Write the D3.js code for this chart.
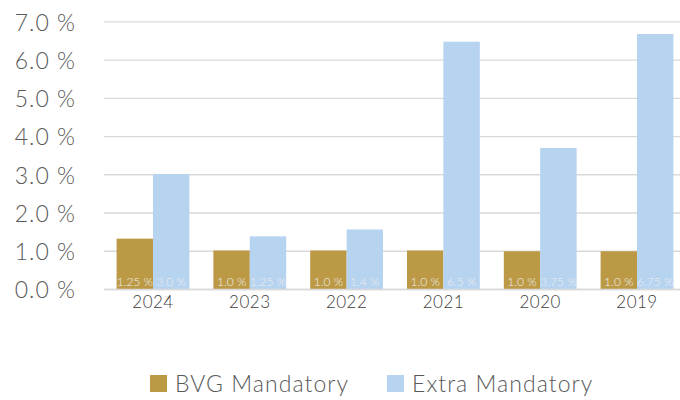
<!DOCTYPE html>
<html><head><meta charset="utf-8">
<script src="https://cdn.jsdelivr.net/npm/d3@7"></script>
<style>body{margin:0;background:#fff}svg{display:block}text{font-family:Lato,"Open Sans",sans-serif;font-weight:300}</style>
</head><body>
<svg id="c" width="680" height="400"></svg>
<script>
const years = ["2024","2023","2022","2021","2020","2019"];
const seriesNames = ["BVG Mandatory","Extra Mandatory"];
const bvgValues = [1.33, 1.02, 1.02, 1.02, 1.0, 1.0];
const extraValues = [3.02, 1.39, 1.57, 6.48, 3.7, 6.68];
const bvgLabels = ["1.25 %","1.0 %","1.0 %","1.0 %","1.0 %","1.0 %"];
const extraLabels = ["3.0 %","1.25 %","1.4 %","6.5 %","3.75 %","6.75 %"];
const yTicks = [0,1,2,3,4,5,6,7];
const colors = ["#BC9A45","#B6D3F0"];

const svg = d3.select("#c");
const x = d3.scaleBand().domain(years).range([104.6,685.4]).paddingInner(0).paddingOuter(0);
const y = d3.scaleLinear().domain([0,7]).range([289.5,21.8]);
const xs = d3.scaleBand().domain(seriesNames).range([12,x.bandwidth()-12]);

// gridlines
svg.append("g").selectAll("line").data(yTicks).join("line")
  .attr("x1",104).attr("x2",680)
  .attr("y1",d=>y(d)).attr("y2",d=>y(d))
  .attr("stroke","#d9d9d9").attr("stroke-width",1.3);

// y labels
const yAxis = d3.axisLeft(y).tickValues(yTicks).tickSize(0).tickPadding(0)
  .tickFormat(d=>d3.format(".1f")(d)+" %");
const gy = svg.append("g").attr("transform","translate(76,0)").call(yAxis);
gy.select(".domain").remove();
gy.selectAll("text").attr("fill","#595959").style("font-size","23px")
  .style("letter-spacing","1px").attr("dy","0.36em");

const data = years.map((yr,i)=>({yr, vals:[bvgValues[i],extraValues[i]], labs:[bvgLabels[i],extraLabels[i]]}));
const groups = svg.append("g").selectAll("g").data(data).join("g")
  .attr("transform",d=>`translate(${x(d.yr)},0)`);
groups.selectAll("rect").data(d=>d.vals.map((v,k)=>({v,k}))).join("rect")
  .attr("x",d=>xs(seriesNames[d.k])).attr("width",xs.bandwidth())
  .attr("y",d=>y(d.v)).attr("height",d=>y(0)-y(d.v))
  .attr("fill",d=>colors[d.k]);
groups.selectAll("text.lab").data(d=>d.labs.map((t,k)=>({t,k}))).join("text")
  .attr("class","lab")
  .attr("x",d=>xs(seriesNames[d.k])+xs.bandwidth()/2).attr("y",285.5)
  .attr("text-anchor","middle").attr("fill","#eeeeee").style("font-size","12px")
  .text(d=>d.t);

// baseline
svg.append("line").attr("x1",104).attr("x2",680).attr("y1",y(0)).attr("y2",y(0))
  .attr("stroke","#d9d9d9").attr("stroke-width",1.3);

// x axis labels
const xAxis = d3.axisBottom(x).tickSize(0).tickPadding(0);
const gx = svg.append("g").attr("transform","translate(0,308)").call(xAxis);
gx.select(".domain").remove();
gx.selectAll("text").attr("dy",0).attr("fill","#404040").style("font-size","17px")
  .style("letter-spacing","0.5px");

// legend
const legX = [150,387];
const leg = svg.append("g").selectAll("g").data(seriesNames).join("g")
  .attr("transform",(d,i)=>`translate(${legX[i]},375)`);
leg.append("rect").attr("width",17).attr("height",17).attr("fill",(d,i)=>colors[i]);
leg.append("text").attr("x",25).attr("y",16.5).attr("fill","#595959")
  .style("font-size","23px").style("letter-spacing","1.05px").text(d=>d);
</script>
</body></html>
